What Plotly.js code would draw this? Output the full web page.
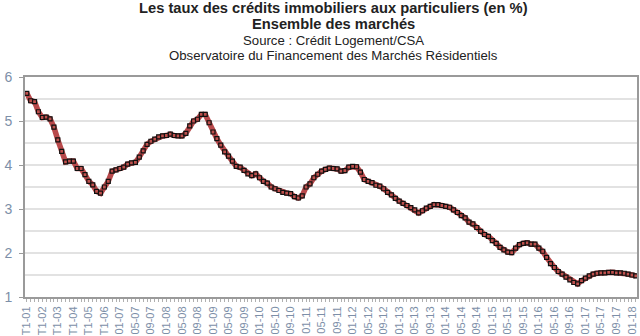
<!DOCTYPE html>
<html><head><meta charset="utf-8">
<script src="https://cdn.plot.ly/plotly-3.0.1.min.js"></script>
<style>html,body{margin:0;padding:0;background:#fff}#chart{width:640px;height:336px}</style>
</head><body><div id="chart"></div>
<script>
// Quarterly rates 2001-2006 (T1..T4)
const quarterYears = ['01','02','03','04','05','06'];
const ratesQuarterly = [5.63,5.46,5.44,5.21, 5.08,5.09,5.05,4.86, 4.57,4.31,4.07,4.09, 4.09,3.92,3.92,3.78, 3.63,3.55,3.40,3.36, 3.50,3.63,3.86,3.89];
// Monthly rates 2007 -> 02-2018
const monthYears = ['07','08','09','10','11','12','13','14','15','16','17','18'];
const rates2007 = [3.92,3.95,4.02,4.05,4.06,4.18,4.32,4.47,4.54,4.59,4.64,4.66];
const rates2008 = [4.67,4.70,4.67,4.66,4.66,4.72,4.89,5.00,5.04,5.15,5.15,4.96];
const rates2009 = [4.75,4.60,4.45,4.30,4.20,4.09,3.97,3.95,3.88,3.80,3.76,3.80];
const rates2010 = [3.71,3.63,3.59,3.50,3.46,3.42,3.38,3.36,3.35,3.28,3.25,3.30];
const rates2011 = [3.50,3.57,3.71,3.79,3.86,3.90,3.93,3.92,3.91,3.86,3.87,3.95];
const rates2012 = [3.97,3.96,3.84,3.67,3.63,3.60,3.54,3.52,3.46,3.38,3.32,3.24];
const rates2013 = [3.18,3.13,3.08,3.03,2.98,2.91,2.96,3.02,3.06,3.10,3.10,3.08];
const rates2014 = [3.06,3.04,2.98,2.92,2.85,2.80,2.70,2.66,2.58,2.49,2.42,2.38];
const rates2015 = [2.28,2.22,2.13,2.07,2.02,2.01,2.11,2.19,2.22,2.23,2.20,2.20];
const rates2016 = [2.11,2.04,1.90,1.76,1.67,1.58,1.52,1.45,1.39,1.33,1.30,1.37];
const rates2017 = [1.43,1.48,1.52,1.54,1.55,1.55,1.56,1.56,1.55,1.55,1.54,1.52];
const rates2018 = [1.50,1.48];

const monthlyRates = [rates2007,rates2008,rates2009,rates2010,rates2011,rates2012,rates2013,rates2014,rates2015,rates2016,rates2017,rates2018];

const categories = [];
const values = [];
quarterYears.forEach((y, yi) => {
  for (let q = 1; q <= 4; q++) { categories.push('T' + q + '-' + y); values.push(ratesQuarterly[yi*4 + q - 1]); }
});
monthYears.forEach((y, yi) => {
  monthlyRates[yi].forEach((v, mi) => { categories.push(String(mi+1).padStart(2,'0') + '-' + y); values.push(v); });
});
const tickText = categories.map((c, i) => (i % 4 === 0 ? c : ''));

const titleLines = [
  {text: '<b>Les taux des crédits immobiliers aux particuliers (en %)</b>', py: 8, size: 14.7},
  {text: '<b>Ensemble des marchés</b>', py: 24, size: 14.7},
  {text: 'Source : Crédit Logement/CSA', py: 40.5, size: 13.2},
  {text: 'Observatoire du Financement des Marchés Résidentiels', py: 55.5, size: 13.2}
];
const plotTop = 77, plotBottom = 297, plotH = plotBottom - plotTop;

const trace = {
  x: categories, y: values, type: 'scatter', mode: 'lines+markers',
  line: {color: '#b8494b', width: 5.5},
  marker: {symbol: 'square', size: 4, color: '#c0504d', line: {color: '#111', width: 1.2}},
  hoverinfo: 'x+y'
};

const layout = {
  width: 640, height: 336,
  margin: {l: 25, r: 3, t: plotTop, b: 336 - plotBottom},
  paper_bgcolor: '#fff', plot_bgcolor: '#fff',
  font: {family: '"Liberation Sans", Arial, sans-serif', color: '#222'},
  showlegend: false,
  xaxis: {
    type: 'category', range: [-0.46, categories.length - 0.7],
    tickmode: 'array', tickvals: categories, ticktext: tickText,
    tickangle: -90, ticks: 'outside', ticklen: 3, tickcolor: '#b0b0b0', tickwidth: 1,
    tickfont: {size: 11, color: '#7d8fa8'},
    showgrid: false, zeroline: false,
    showline: true, linecolor: '#9a9a9a', linewidth: 2, mirror: true,
    automargin: false, fixedrange: true
  },
  yaxis: {
    range: [1, 6], tickmode: 'linear', tick0: 1, dtick: 1,
    ticks: 'outside', ticklen: 4, tickcolor: '#9a9a9a', tickwidth: 1,
    tickfont: {size: 14, color: '#7d8fa8'}, ticklabelstandoff: 4,
    showgrid: true, gridcolor: '#e2e2e2', gridwidth: 1.5,
    minor: {dtick: 0.5, tick0: 1, showgrid: true, gridcolor: '#e2e2e2', gridwidth: 1.5, ticks: ''},
    zeroline: false, showline: true, linecolor: '#9a9a9a', linewidth: 2, mirror: true,
    automargin: false, fixedrange: true
  },
  annotations: titleLines.map(t => ({
    text: t.text, xref: 'paper', yref: 'paper', x: (333 - 25) / 612, xanchor: 'center',
    y: (plotBottom - t.py) / plotH, yanchor: 'middle', showarrow: false,
    font: {size: t.size, color: '#222', family: '"Liberation Sans", Arial, sans-serif'}
  }))
};

Plotly.newPlot('chart', [trace], layout, {displayModeBar: false, staticPlot: true});
</script></body></html>
